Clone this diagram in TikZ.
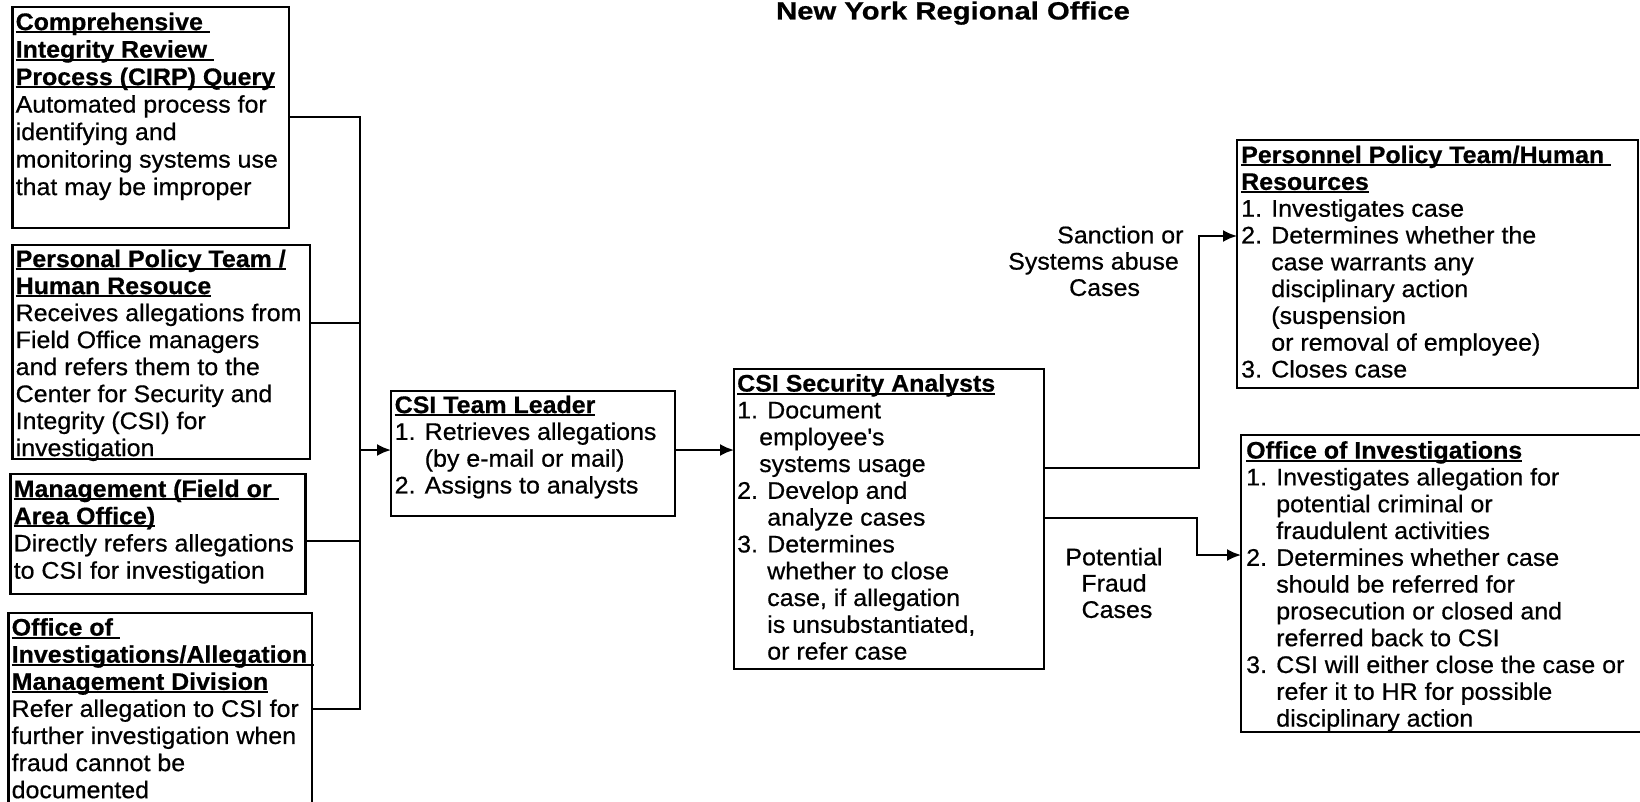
\documentclass[tikz,border=0pt]{standalone}
\usepackage{fontspec}
\setmainfont{Liberation Sans}[FakeStretch=1.04,FakeBold=0.6]
\usetikzlibrary{arrows.meta}
\newcommand\hd[1]{\setbox0\hbox{\bfseries #1}\rlap{\rule[-3pt]{\wd0}{1.8pt}}\box0}
\newcommand\ind{\phantom{1. }}
\tikzset{
 box/.style={draw, line width=2.1pt, inner sep=0pt, outer sep=0pt, anchor=north west},
 txt/.style={inner sep=0pt, anchor=north west, align=left, font=\fontsize{24}{#1}\selectfont},
 txt/.default=26.8,
 lbl/.style={inner sep=0pt, align=left, font=\fontsize{24}{26.3}\selectfont},
 ln/.style={line width=2.1pt},
 arr/.style={line width=2.1pt, -{Latex[length=14pt,width=12pt]}},
}
\begin{document}
\begin{tikzpicture}[x=1pt,y=-1pt]
\clip (0,0) rectangle (1640,802);
\fill[white] (0,0) rectangle (1640,802);

\node[font=\fontsize{25}{30}\selectfont\bfseries\addfontfeatures{FakeStretch=1.17}, anchor=base, inner sep=0pt] (title) at (953,19.5) {New York Regional Office};

% left boxes
\node[box, minimum width=276.5pt, minimum height=221pt] (cirp) at (12.5,7) {};
\node[box, minimum width=297.5pt, minimum height=214pt] (ppt) at (12.5,245) {};
\node[box, minimum width=295pt, minimum height=120pt] (mgmt) at (10.5,474) {};
\node[box, minimum width=303.5pt, minimum height=230pt] (oiamd) at (8.5,613) {};

\node[txt=27.5] (cirpT) at ([shift={(3,5.5)}]cirp.north west) {\hd{Comprehensive }\\\hd{Integrity Review }\\\hd{Process (CIRP) Query}\\Automated process for\\identifying and\\monitoring systems use\\that may be improper};
\node[txt=27.0] (pptT) at ([shift={(3,4.5)}]ppt.north west) {\hd{Personal Policy Team /}\\\hd{Human Resouce}\\Receives allegations from\\Field Office managers\\and refers them to the\\Center for Security and\\Integrity (CSI) for\\investigation};
\node[txt=27.2] (mgmtT) at ([shift={(3,5.5)}]mgmt.north west) {\hd{Management (Field or }\\\hd{Area Office)}\\Directly refers allegations\\to CSI for investigation};
\node[txt=27.1] (oiamdT) at ([shift={(3,5)}]oiamd.north west) {\hd{Office of }\\\hd{Investigations/Allegation }\\\hd{Management Division}\\Refer allegation to CSI for\\further investigation when\\fraud cannot be\\documented};

% middle boxes
\node[box, minimum width=284pt, minimum height=125pt] (tl) at (391,391) {};
\node[box, minimum width=310pt, minimum height=300pt] (an) at (734,369) {};
\node[txt] (tlT) at ([shift={(3.5,4.5)}]tl.north west) {\hd{CSI Team Leader}\\1. Retrieves allegations\\\ind(by e-mail or mail)\\2. Assigns to analysts};
\node[txt] (anT) at ([shift={(3,5)}]an.north west) {\hd{CSI Security Analysts}\\1. Document\\\hspace*{22pt}employee\textquotesingle s\\\hspace*{22pt}systems usage\\2. Develop and\\\ind analyze cases\\3. Determines\\\ind whether to close\\\ind case, if allegation\\\ind is unsubstantiated,\\\ind or refer case};

% right boxes
\node[box, minimum width=401pt, minimum height=248pt] (hr) at (1237,140) {};
\node[box, minimum width=430pt, minimum height=297pt] (oi) at (1241,435) {};
\node[txt] (hrT) at ([shift={(4,5.5)}]hr.north west) {\hd{Personnel Policy Team/Human }\\\hd{Resources}\\1. Investigates case\\2. Determines whether the\\\ind case warrants any\\\ind disciplinary action\\\ind (suspension\\\ind or removal of employee)\\3. Closes case};
\node[txt] (oiT) at ([shift={(5,6)}]oi.north west) {\hd{Office of Investigations}\\1. Investigates allegation for\\\ind potential criminal or\\\ind fraudulent activities\\2. Determines whether case\\\ind should be referred for\\\ind prosecution or closed and\\\ind referred back to CSI\\3. CSI will either close the case or\\\ind refer it to HR for possible\\\ind disciplinary action};

% labels
\node[lbl, anchor=west] (sanc) at (1008,261) {\hspace*{49pt}Sanction or\\Systems abuse\\\hspace*{61pt}Cases};
\node[lbl, anchor=center, align=center] (fraud) at (1114,583) {Potential\\Fraud\\\hspace*{6pt}Cases};

% connectors
\coordinate (b1) at (360,117);
\coordinate (b2) at (360,323);
\coordinate (b3) at (360,541);
\coordinate (b4) at (360,709);
\draw[ln] (cirp.east |- b1) -- (b1) -- (b4) -- (oiamd.east |- b4);
\draw[ln] (ppt.east |- b2) -- (b2);
\draw[ln] (mgmt.east |- b3) -- (b3);
\coordinate (tin) at ([yshift=3.5pt]tl.west);
\draw[arr] (b1 |- tin) -- (tin);
\coordinate (tout) at ([yshift=3.5pt]tl.east);
\draw[arr] (tout) -- (tout -| an.west);

\coordinate (s1) at (1199,468);
\coordinate (s2) at (1199,236);
\draw[arr] (an.east |- s1) -- (s1) -- (s2) -- (s2 -| hr.west);
\coordinate (f1) at (1197,518);
\coordinate (f2) at (1197,555);
\draw[arr] (an.east |- f1) -- (f1) -- (f2) -- (f2 -| oi.west);
\end{tikzpicture}
\end{document}
